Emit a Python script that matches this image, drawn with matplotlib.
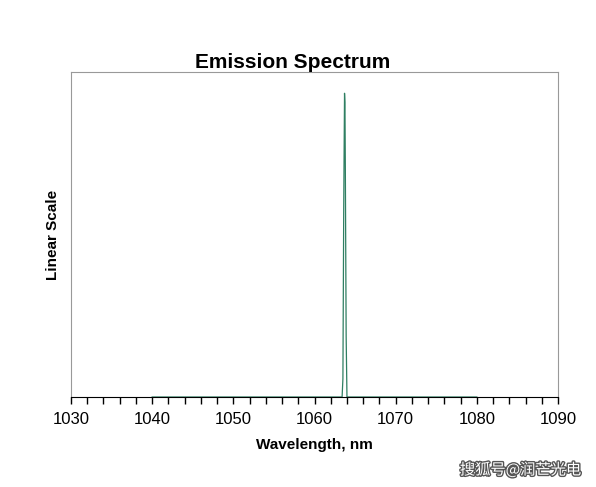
import matplotlib.pyplot as plt
import matplotlib.patheffects as pe
from matplotlib.ticker import MultipleLocator

wavelength = [1040, 1063.4, 1063.5, 1063.6, 1063.7, 1063.75, 1063.8, 1063.9, 1064.0, 1080]
intensity = [0, 0, 0.06, 0.62, 1.0, 0.97, 0.75, 0.2, 0, 0]

plt.rcParams['font.family'] = ['Liberation Sans', 'DejaVu Sans']
fig = plt.figure(figsize=(5.96, 4.87), dpi=100)
ax = fig.add_axes([71/596, 90/487, 487/596, 325/487])
ax.plot(wavelength, intensity, color='#2f7f62', lw=0.9, clip_on=False)
ax.set_xlim(1030, 1090)
ax.set_ylim(0, 1.07)
ax.xaxis.set_major_locator(MultipleLocator(10))
ax.xaxis.set_minor_locator(MultipleLocator(2))
ax.tick_params(axis='x', which='both', direction='out', length=5, width=1, labelsize=12, pad=6)
ax.set_yticks([])
for s in ['top', 'right', 'left']:
    ax.spines[s].set_color('#999999')
    ax.spines[s].set_linewidth(0.8)
ax.set_xlabel('Wavelength, nm', fontsize=11, fontweight='bold', labelpad=8)
ax.set_ylabel('Linear Scale', fontsize=11, fontweight='bold', labelpad=8)
fig.text(293/596, 1 - 63/487, 'Emission Spectrum', ha='center', va='center', fontsize=15, fontweight='bold')
fig.text(0.975, 1 - 470/487, '搜狐号@润芒光电', ha='right', va='center', fontsize=11, color='white',
         family=['Noto Sans CJK SC', 'DejaVu Sans'],
         path_effects=[pe.withStroke(linewidth=2, foreground='#555555')])
fig.savefig('out.png', dpi=100)
